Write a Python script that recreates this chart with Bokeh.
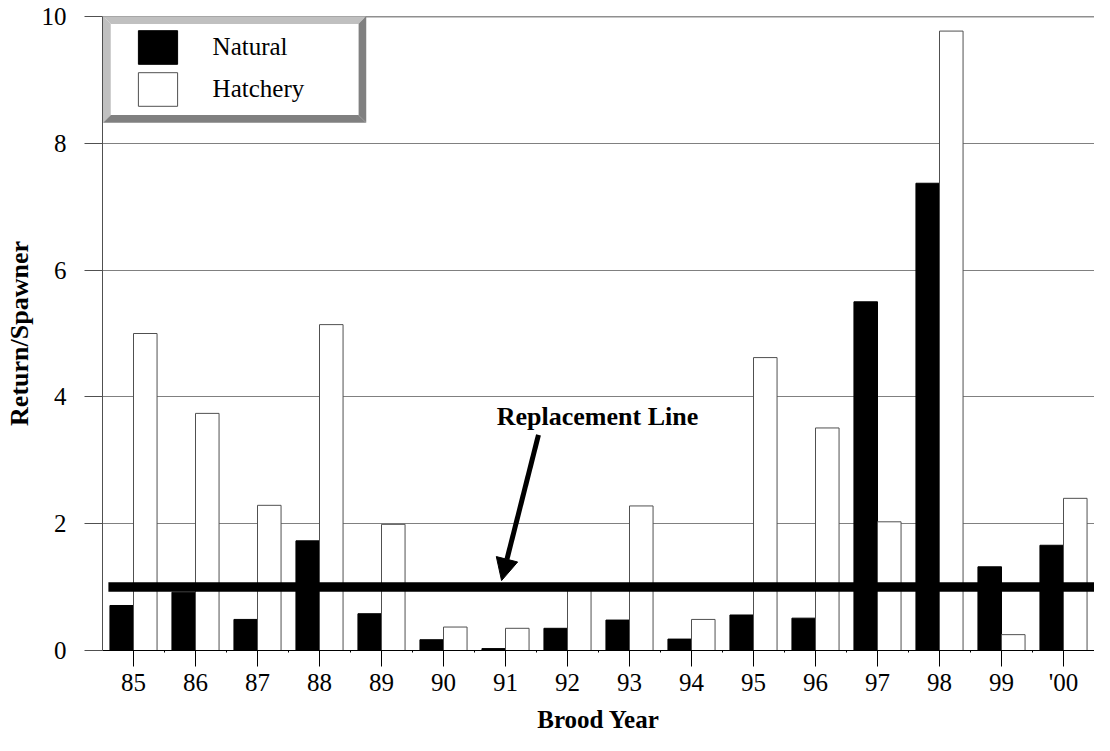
import numpy as np
from bokeh.plotting import figure
from bokeh.models import (Range1d, FixedTicker, Legend, LegendItem, Arrow, NormalHead, Label)
from bokeh.embed import file_html
from bokeh.resources import INLINE

# ---- data ----
years = ["85", "86", "87", "88", "89", "90", "91", "92", "93", "94", "95", "96", "97", "98", "99", "'00"]
natural = [0.71, 0.92, 0.49, 1.73, 0.58, 0.17, 0.03, 0.35, 0.48, 0.18, 0.56, 0.51, 5.50, 7.37, 1.32, 1.66]
hatchery = [5.00, 3.74, 2.29, 5.14, 1.99, 0.37, 0.35, 0.97, 2.28, 0.49, 4.62, 3.51, 2.03, 9.77, 0.25, 2.40]
replacement = 1.0
y_ticks = [0, 2, 4, 6, 8, 10]

FONT = "Liberation Serif"
n = len(years)
idx = np.arange(n)

# canvas / frame geometry (canvas pixels)
W, H = 1094, 735
BL, BR, BT, BB = 102, 0, 16, 83
FW, FH = W - BL - BR, H - BT - BB

p = figure(width=W, height=H, output_backend="svg", toolbar_location=None,
           x_range=Range1d(-0.5, n - 0.5), y_range=Range1d(0, 10),
           min_border_left=BL, min_border_right=BR, min_border_top=BT, min_border_bottom=BB)
p.outline_line_color = None
p.background_fill_color = "white"
p.border_fill_color = "white"

# helpers: reference-picture pixel -> data (reference frame was x 102..1110, y 16..660)
RX0, RX1, RY0, RY1 = 102.0, 1110.0, 16.0, 660.0
def dx(px):
    return -0.5 + (px - RX0) / (RX1 - RX0) * n
def dy(py):
    return (RY1 - py) / (RY1 - RY0) * 10.0
SX = FW / (RX1 - RX0)
SY = FH / (RY1 - RY0)

# grid
p.xgrid.visible = False
p.ygrid.ticker = FixedTicker(ticks=y_ticks)
p.ygrid.grid_line_color = "#808080"
p.ygrid.grid_line_width = 1

# bars
bw = 0.38
r_nat = p.vbar(x=idx - bw / 2, top=natural, bottom=0, width=bw,
               fill_color="black", line_color="black", line_width=1)
r_hat = p.vbar(x=idx + bw / 2, top=hatchery, bottom=0, width=bw,
               fill_color="white", line_color="#505050", line_width=1)

# top border line at 10
p.segment(x0=[-0.5], y0=[10], x1=[n - 0.5], y1=[10], line_color="#202020", line_width=1.5)

# replacement line
p.segment(x0=[dx(108)], y0=[replacement], x1=[n - 0.5], y1=[replacement],
          line_color="black", line_width=9.5, line_cap="butt")

# legend bevel frame
ox0, ox1, oy0, oy1 = 102.5, 370.0, 15.5, 124.0
t = 8.0
ix0, ix1, iy0, iy1 = ox0 + t, ox1 - t, oy0 + t, oy1 - t
light = "#c0c0c0"
dark = "#808080"
bevel_xs = [
    [dx(ox0), dx(ox1), dx(ix1), dx(ix0)],  # top
    [dx(ox0), dx(ix0), dx(ix0), dx(ox0)],  # left
    [dx(ox0), dx(ix0), dx(ix1), dx(ox1)],  # bottom
    [dx(ox1), dx(ix1), dx(ix1), dx(ox1)],  # right
]
bevel_ys = [
    [dy(oy0), dy(oy0), dy(iy0), dy(iy0)],
    [dy(oy0), dy(iy0), dy(iy1), dy(oy1)],
    [dy(oy1), dy(iy1), dy(iy1), dy(oy1)],
    [dy(oy0), dy(iy0), dy(iy1), dy(oy1)],
]
p.patches(xs=bevel_xs, ys=bevel_ys, fill_color=[light, light, dark, dark], line_color=None)
p.quad(left=[dx(ix0)], right=[dx(ix1)], top=[dy(iy0)], bottom=[dy(iy1)],
       fill_color="white", line_color=None)

# legend
gw, gh = 49, 42
leg_left = (133.1 - RX0) * SX
leg_top = (28.0 - RY0) * SY
legend = Legend(items=[LegendItem(label="Natural", renderers=[r_nat]),
                       LegendItem(label="Hatchery", renderers=[r_hat])],
                location=(leg_left, FH - leg_top - 2 * gh),
                glyph_width=gw, glyph_height=gh, spacing=0, padding=0, margin=0,
                label_standoff=31, label_text_font=FONT, label_text_font_size="25px",
                label_text_color="black",
                background_fill_alpha=0, border_line_alpha=0)
p.add_layout(legend, "center")

# annotation
p.add_layout(Label(x=dx(605), y=dy(422), text="Replacement Line", text_align="center",
                   text_baseline="middle", text_font=FONT, text_font_size="26px",
                   text_font_style="bold", text_color="black"))
p.add_layout(Arrow(x_start=dx(545), y_start=dy(441), x_end=dx(507.5), y_end=dy(589),
                   line_width=5, line_color="black",
                   end=NormalHead(size=22, fill_color="black", line_color="black", line_width=1)))

# axes
xa = p.xaxis[0]
xa.ticker = FixedTicker(ticks=list(idx), minor_ticks=list(idx[:-1] + 0.5))
xa.major_label_overrides = {int(i): y for i, y in zip(idx, years)}
xa.axis_label = "Brood Year"
xa.axis_label_text_font = FONT
xa.axis_label_text_font_size = "25px"
xa.axis_label_text_font_style = "bold"
xa.axis_label_text_color = "black"
xa.axis_label_standoff = 7
xa.major_label_text_font = FONT
xa.major_label_text_font_size = "25px"
xa.major_label_text_color = "black"
xa.major_label_standoff = 2
xa.major_tick_out = 16
xa.major_tick_in = 0
xa.minor_tick_out = 2
xa.minor_tick_in = 0
xa.axis_line_color = "black"
xa.major_tick_line_color = "black"
xa.minor_tick_line_color = "black"

ya = p.yaxis[0]
ya.ticker = FixedTicker(ticks=y_ticks)
ya.axis_label = "Return/Spawner"
ya.axis_label_text_font = FONT
ya.axis_label_text_font_size = "26px"
ya.axis_label_text_font_style = "bold"
ya.axis_label_text_color = "black"
ya.axis_label_standoff = 5
ya.major_label_text_font = FONT
ya.major_label_text_font_size = "25px"
ya.major_label_text_color = "black"
ya.major_label_standoff = 18
ya.major_tick_out = 18
ya.major_tick_in = 0
ya.minor_tick_line_color = None
ya.axis_line_color = "#505050"
ya.major_tick_line_color = "#505050"

open("out.html", "w").write(file_html(p, INLINE))
